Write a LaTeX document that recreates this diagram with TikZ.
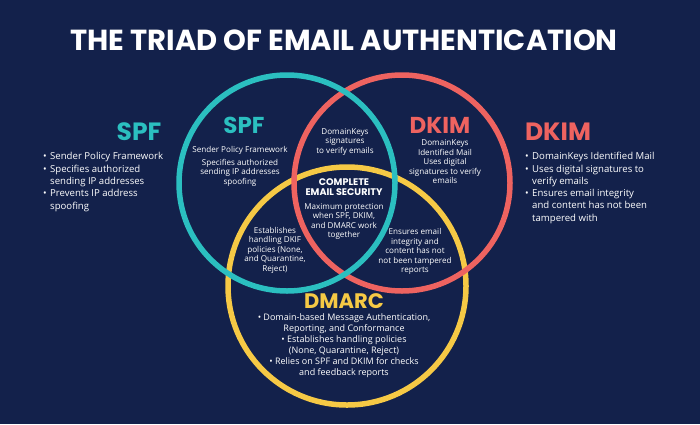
\documentclass[tikz,border=0pt]{standalone}
\usepackage{fontspec}
\setmainfont{Open Sans}
\newfontfamily\headfont{Poppins}
\definecolor{bgnavy}{HTML}{13214B}
\definecolor{tealc}{HTML}{2BBFC0}
\definecolor{coralc}{HTML}{EE6360}
\definecolor{yellowc}{HTML}{F6C945}
\newcommand{\bitem}{\makebox[7pt][l]{•}}
\newcommand{\bcont}{\hspace*{7pt}}
\begin{document}
\begin{tikzpicture}[x=1pt,y=-1pt,
  ring/.style={line width=5.5pt},
  headbase/.style={inner sep=0pt, anchor=base, text depth=0pt},
  bighead/.style={headbase, font=\headfont\bfseries\fontsize{25}{25}\selectfont, text height=18pt},
  innerhead/.style={headbase, font=\headfont\bfseries\fontsize{23}{23}\selectfont, text height=16pt},
  smalltxt/.style={text=white, align=center, inner sep=0pt, font=\fontsize{8.1}{9.5}\selectfont},
  bullets/.style={text=white, align=left, inner sep=0pt, font=\fontsize{9.6}{12.3}\selectfont, anchor=west},
]
\fill[bgnavy] (0,0) rectangle (700,424);
\useasboundingbox (0,0) rectangle (700,424);

% title
\node[text=white, font=\headfont\bfseries\fontsize{29}{29}\selectfont, inner sep=0pt, anchor=base, text depth=0pt] (title) at (344,50) {THE TRIAD OF EMAIL AUTHENTICATION};

% circles
\draw[ring, yellowc] (347,286) circle[radius=119];
\draw[ring, coralc] (402,183) circle[radius=108];
\draw[ring, tealc] (287,183) circle[radius=108];

% outer SPF
\node[bighead, text=tealc] (spfout) at (139,140) {SPF};
\node[bullets] (spflist) at (43,182) {\bitem Sender Policy Framework\\ \bitem Specifies authorized\\ \bcont sending IP addresses\\ \bitem Prevents IP address\\ \bcont spoofing};

% outer DKIM
\node[bighead, text=coralc] (dkimout) at (558,140) {DKIM};
\node[bullets] (dkimlist) at (525,188) {\bitem DomainKeys Identified Mail\\ \bitem Uses digital signatures to\\ \bcont verify emails\\ \bitem Ensures email integrity\\ \bcont and content has not been\\ \bcont tampered with};

% inner SPF
\node[innerhead, text=tealc] (spfin) at (244,133) {SPF};
\node[smalltxt] (spfdesc) at (240,150) {Sender Policy Framework};
\node[smalltxt] (spfdesc2) at (240,172.5) {Specifies authorized\\ sending IP addresses\\ spoofing};

% inner DKIM
\node[innerhead, text=coralc] (dkimin) at (440,133) {DKIM};
\node[smalltxt] (dkimdesc) at (445,162) {DomainKeys\\ Identified Mail\\ Uses digital\\ signatures to verify\\ emails};

% top lens
\node[smalltxt] (toplens) at (345,141.5) {DomainKeys\\ signatures\\ to verify emails};

% center
\node[text=white, align=center, inner sep=0pt, font=\headfont\bfseries\fontsize{9.6}{10.5}\selectfont] (center) at (344,187) {COMPLETE\\ EMAIL SECURITY};
\node[smalltxt] (centerdesc) at (344,221.5) {Maximum protection\\ when SPF, DKIM,\\ and DMARC work\\ together};

% left lens
\node[smalltxt] (leftlens) at (275,250) {Establishes\\ handling DKIF\\ policies (None,\\ and Quarantine,\\ Reject)};

% right lens
\node[smalltxt] (rightlens) at (415,251.5) {Ensures email\\ integrity and\\ content has not\\ not been tampered\\ reports};

% DMARC
\node[headbase, font=\headfont\bfseries\fontsize{21}{21}\selectfont, text height=15pt, text=yellowc] (dmarc) at (344,308.5) {DMARC};
\node[text=white, align=center, inner sep=0pt, font=\fontsize{9}{11}\selectfont] (dmarcdesc) at (344,346) {• Domain-based Message Authentication,\\ Reporting, and Conformance\\ • Establishes handling policies\\ (None, Quarantine, Reject)\\ • Relies on SPF and DKIM for checks\\ and feedback reports};
\end{tikzpicture}
\end{document}
